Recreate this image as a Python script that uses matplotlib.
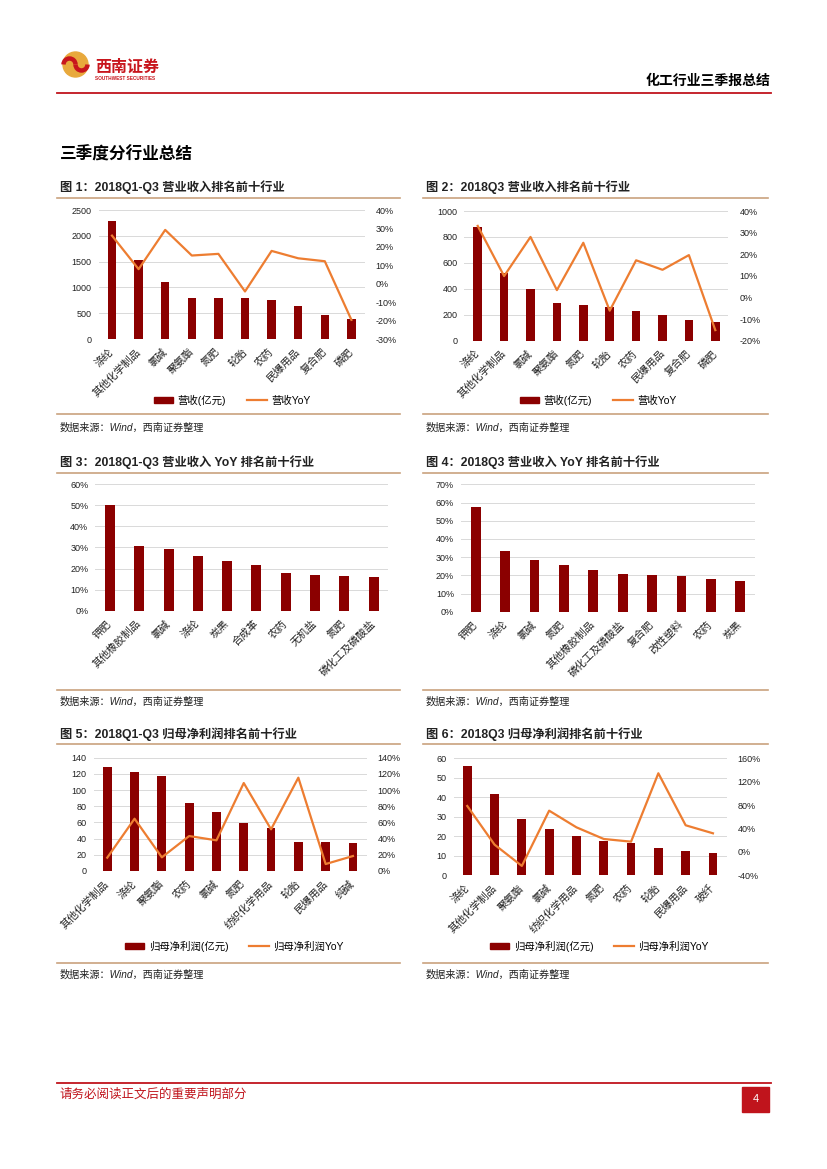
import matplotlib
matplotlib.use('Agg')
import matplotlib.pyplot as plt
from matplotlib.patches import Circle, Arc, Rectangle, Patch
from matplotlib.lines import Line2D
import numpy as np

plt.rcParams['font.family'] = ['Liberation Sans', 'Noto Sans CJK SC', 'DejaVu Sans']

W, H = 827, 1169
BAR = '#8B0000'
LINE = '#ED7D31'
TAN = '#C9A27E'
RED = '#C0141C'
GRID = '#D9D9D9'
TXT = '#222222'

# 图1 2018Q1-Q3 营业收入
c1_names = ['涤纶', '其他化学制品', '氯碱', '聚氨酯', '氮肥', '轮胎', '农药', '民爆用品', '复合肥', '磷肥']
c1_rev = [2290, 1535, 1095, 786, 786, 786, 762, 631, 470, 393]
c1_yoy = [26.1, 7.9, 29.2, 15.3, 16.2, -4.2, 17.8, 13.8, 12.2, -19.6]

# 图2 2018Q3 营业收入
c2_names = ['涤纶', '其他化学制品', '氯碱', '聚氨酯', '氮肥', '轮胎', '农药', '民爆用品', '复合肥', '磷肥']
c2_rev = [877, 524, 401, 293, 275, 262, 229, 198, 159, 147]
c2_yoy = [33.1, 9.9, 28.0, 3.4, 25.3, -6.1, 17.2, 12.8, 19.6, -15.1]

# 图3 2018Q1-Q3 营业收入 YoY
c3_names = ['钾肥', '其他橡胶制品', '氯碱', '涤纶', '炭黑', '合成革', '农药', '无机盐', '氮肥', '磷化工及磷酸盐']
c3_yoy = [50.2, 30.7, 29.3, 25.9, 23.6, 21.7, 17.9, 16.9, 16.5, 16.0]

# 图4 2018Q3 营业收入 YoY
c4_names = ['钾肥', '涤纶', '氯碱', '氮肥', '其他橡胶制品', '磷化工及磷酸盐', '复合肥', '改性塑料', '农药', '炭黑']
c4_yoy = [57.3, 33.3, 28.6, 25.6, 22.9, 20.7, 20.1, 19.6, 17.9, 16.8]

# 图5 2018Q1-Q3 归母净利润
c5_names = ['其他化学制品', '涤纶', '聚氨酯', '农药', '氯碱', '氮肥', '纺织化学用品', '轮胎', '民爆用品', '纯碱']
c5_np = [128, 121.9, 117.4, 84, 72.9, 59.3, 53.1, 35.4, 35.4, 34.2]
c5_yoy = [16.5, 64.6, 16.9, 43.2, 37.9, 108.7, 51.5, 115.3, 8.6, 18.5]

# 图6 2018Q3 归母净利润
c6_names = ['涤纶', '其他化学制品', '聚氨酯', '氯碱', '纺织化学用品', '氮肥', '农药', '轮胎', '民爆用品', '玻纤']
c6_np = [56.2, 41.7, 28.9, 23.8, 20.2, 17.6, 16.6, 14.2, 12.5, 11.6]
c6_yoy = [78.5, 12.4, -24.0, 70.5, 42.0, 22.1, 17.5, 134.4, 45.5, 31.8]

titles = ['图 1：2018Q1-Q3 营业收入排名前十行业', '图 2：2018Q3 营业收入排名前十行业',
          '图 3：2018Q1-Q3 营业收入 YoY 排名前十行业', '图 4：2018Q3 营业收入 YoY 排名前十行业',
          '图 5：2018Q1-Q3 归母净利润排名前十行业', '图 6：2018Q3 归母净利润排名前十行业']
source = '数据来源：Wind，西南证券整理'

fig = plt.figure(figsize=(W / 100, H / 100), dpi=100)

# page layer in pixel coordinates
bg = fig.add_axes([0, 0, 1, 1], zorder=-5)
bg.set_xlim(0, W)
bg.set_ylim(H, 0)
bg.axis('off')

# header
bg.add_patch(Circle((75.5, 64.5), 12.5, color='#E8A93C'))
bg.add_patch(Arc((69.5, 64.5), 12, 12, theta1=180, theta2=360, color='#C8161D', lw=3.2))
bg.add_patch(Arc((81.5, 64.5), 12, 12, theta1=0, theta2=180, color='#C8161D', lw=3.2))
bg.text(95, 67, '西南证券', color='#C8161D', fontsize=11.5, fontweight='bold', va='center', ha='left')
bg.text(95, 78.5, 'SOUTHWEST SECURITIES', color='#C8161D', fontsize=3.4, fontweight='bold', va='center', ha='left')
bg.text(770, 81, '化工行业三季报总结', color='black', fontsize=10, fontweight='bold', va='center', ha='right')
bg.plot([57, 771], [92.5, 92.5], color=RED, lw=1.3)
bg.text(60, 154, '三季度分行业总结', color='black', fontsize=12, fontweight='bold', va='center', ha='left')

# footer
bg.plot([57, 771], [1083, 1083], color=RED, lw=1.3)
bg.text(59, 1095, '请务必阅读正文后的重要声明部分', color=RED, fontsize=9, va='center', ha='left')
bg.add_patch(Rectangle((742, 1087), 27, 25, color=RED))
bg.text(755.5, 1099.5, '4', color='white', fontsize=8, va='center', ha='center')

# chart frames
cols = [(57, 400), (423, 768)]
rows = [(187, 198, 414, 428), (462, 473, 690, 702), (734, 744, 963, 975)]
for i, t in enumerate(titles):
    x0, x1 = cols[i % 2]
    ty, tl, bl, sy = rows[i // 2]
    bg.text(x0 + 3, ty, t, fontsize=8.8, fontweight='bold', color=TXT, va='center', ha='left')
    bg.plot([x0, x1], [tl, tl], color=TAN, lw=1.2)
    bg.plot([x0, x1], [bl, bl], color=TAN, lw=1.2)
    bg.text(x0 + 3, sy, source, fontsize=7.3, fontstyle='italic', color=TXT, va='center', ha='left')


def add_ax(l, t, r, b):
    return fig.add_axes([l / W, 1 - b / H, (r - l) / W, (b - t) / H])


def style(ax, names):
    for s in ax.spines.values():
        s.set_visible(False)
    ax.tick_params(length=0, labelsize=6.5, colors='#222222')
    ax.tick_params(axis='y', pad=5)
    ax.set_xticks(np.arange(len(names)))
    ax.set_xticklabels(names, rotation=45, ha='right', va='center', rotation_mode='anchor', fontsize=7.6)
    ax.tick_params(axis='x', pad=8)
    ax.set_xlim(-0.5, len(names) - 0.5)
    ax.grid(axis='y', color=GRID, lw=0.7)
    ax.set_axisbelow(True)


def combo(box, names, bars, yoy, lticks, rticks, labels, leg_xy):
    ax = add_ax(*box)
    x = np.arange(len(names))
    ax.bar(x, bars, width=0.32, color=BAR)
    ax.set_ylim(lticks[0], lticks[-1])
    ax.set_yticks(lticks)
    ax.set_yticklabels([str(v) for v in lticks])
    style(ax, names)
    ax2 = ax.twinx()
    ax2.plot(x, yoy, color=LINE, lw=1.6)
    ax2.set_ylim(rticks[0], rticks[-1])
    ax2.set_yticks(rticks)
    ax2.set_yticklabels([f'{v}%' for v in rticks])
    for s in ax2.spines.values():
        s.set_visible(False)
    ax2.tick_params(length=0, labelsize=6.5, colors='#222222', pad=8)
    handles = [Patch(color=BAR), Line2D([0], [0], color=LINE, lw=1.6)]
    fig.legend(handles, labels, loc='center', bbox_to_anchor=(leg_xy[0] / W, 1 - leg_xy[1] / H),
               ncol=2, frameon=False, fontsize=7.5, handlelength=1.9, handleheight=0.6,
               columnspacing=2.0, handletextpad=0.4)


def single(box, names, vals, ticks):
    ax = add_ax(*box)
    x = np.arange(len(names))
    ax.bar(x, vals, width=0.34, color=BAR)
    ax.set_ylim(ticks[0], ticks[-1])
    ax.set_yticks(ticks)
    ax.set_yticklabels([f'{v}%' for v in ticks])
    style(ax, names)


combo((98.7, 210, 364.7, 339), c1_names, c1_rev, c1_yoy,
      list(range(0, 2501, 500)), list(range(-30, 41, 10)),
      ['营收(亿元)', '营收YoY'], (232, 400))
combo((464.5, 211, 728.5, 340.7), c2_names, c2_rev, c2_yoy,
      list(range(0, 1001, 200)), list(range(-20, 41, 10)),
      ['营收(亿元)', '营收YoY'], (598, 400))
single((95.3, 484.3, 388.3, 610.7), c3_names, c3_yoy, list(range(0, 61, 10)))
single((461, 484.3, 755, 611.7), c4_names, c4_yoy, list(range(0, 71, 10)))
combo((93.6, 757.7, 366.6, 871), c5_names, c5_np, c5_yoy,
      list(range(0, 141, 20)), list(range(0, 141, 20)),
      ['归母净利润(亿元)', '归母净利润YoY'], (234, 946))
combo((453.6, 758.3, 726.6, 875.3), c6_names, c6_np, c6_yoy,
      list(range(0, 61, 10)), list(range(-40, 161, 40)),
      ['归母净利润(亿元)', '归母净利润YoY'], (599, 946))

fig.savefig('out.png', dpi=100)
